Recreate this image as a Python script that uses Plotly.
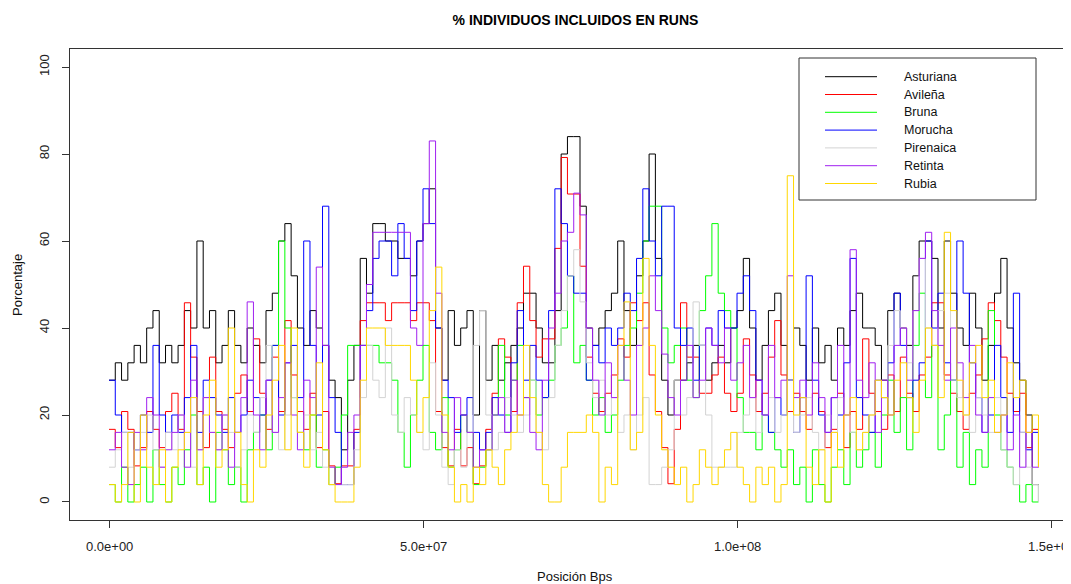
import plotly.graph_objects as go

# ---------------- data (1 Mb grid) ----------------
POSITIONS_MB = list(range(149))  # genomic position in Mb (0..148)

ASTURIANA = [28,32,28,32,36,32,40,44,32,36,
             32,36,44,40,60,40,44,32,36,44,
             36,32,40,36,32,44,48,60,64,52,
             40,36,44,40,36,28,24,12,28,36,
             56,48,64,64,60,60,56,56,52,60,
             64,72,40,28,44,36,40,44,20,44,
             28,36,28,32,36,40,48,48,40,32,
             32,44,80,84,84,68,40,36,40,44,
             48,60,44,36,52,60,80,56,28,20,
             28,28,32,36,36,28,32,36,32,40,
             44,56,40,28,36,44,48,36,28,40,
             36,28,40,32,36,28,40,36,44,48,
             40,40,36,28,44,48,40,36,52,60,
             60,56,40,60,48,40,36,48,40,28,
             36,48,56,40,32,28,20,4,0]
AVILENA = [16.7,12.5,20.8,16.7,8.3,12.5,20.8,16.7,12.5,20.8,
           25,16.7,45.8,33.3,20.8,12.5,33.3,20.8,16.7,12.5,
           25,29.2,20.8,37.5,25,16.7,33.3,20.8,41.7,29.2,
           20.8,16.7,25,12.5,20.8,8.3,4.2,8.3,8.3,16.7,
           41.7,45.8,45.8,45.8,41.7,45.8,45.8,45.8,41.7,45.8,
           45.8,41.7,20.8,12.5,8.3,16.7,8.3,12.5,4.2,8.3,
           16.7,25,37.5,33.3,20.8,45.8,54.2,41.7,33.3,37.5,
           37.5,58.3,79.2,70.8,70.8,54.2,33.3,25,20.8,25,
           29.2,37.5,33.3,45.8,41.7,45.8,29.2,20.8,12.5,4.2,
           16.7,45.8,33.3,33.3,25,25,29.2,33.3,25,20.8,
           25,37.5,29.2,20.8,25,33.3,41.7,29.2,20.8,25,
           20.8,16.7,25,20.8,12.5,16.7,25,12.5,20.8,16.7,
           37.5,25,20.8,16.7,29.2,20.8,33.3,25,20.8,29.2,
           33.3,45.8,45.8,29.2,25,20.8,16.7,25,29.2,37.5,
           45.8,41.7,33.3,25,20.8,25,12.5,16.7,8.3]
BRUNA = [4,0,8,0,4,8,0,12,4,0,
         8,4,12,20,4,8,0,16,12,4,
         8,0,12,16,20,12,36,60,40,24,
         16,12,20,8,12,4,8,20,36,36,
         36,36,36,32,32,28,16,8,20,28,
         36,16,12,24,8,12,20,16,4,8,
         12,20,36,20,28,36,24,28,20,24,
         28,36,40,52,32,36,28,20,24,16,
         20,28,36,40,48,60,68,68,40,32,
         36,40,28,24,44,52,64,48,44,40,
         24,16,16,12,20,16,12,8,12,4,
         8,0,12,4,0,8,12,4,16,8,
         12,16,8,20,28,16,24,12,36,48,
         24,36,12,20,28,8,16,4,12,8,
         44,20,12,8,4,0,4,0,4]
MORUCHA = [28,20,16,16,12,20,16,36,20,16,
           20,16,24,36,16,28,24,20,16,24,
           16,20,28,24,20,28,36,20,32,36,
           24,60,36,20,68,24,16,4,4,16,
           36,44,56,60,60,52,64,56,44,60,
           72,64,40,28,24,16,20,24,16,12,
           16,24,20,16,32,44,28,36,28,24,
           44,72,64,52,48,48,28,36,32,40,
           36,40,48,44,56,72,60,52,68,68,
           40,36,40,28,36,40,36,44,40,40,
           48,52,44,28,20,16,24,20,28,16,
           24,52,28,20,16,24,20,32,56,24,
           20,16,28,24,32,48,36,24,28,32,
           60,40,48,32,28,60,48,32,24,16,
           20,36,24,16,48,16,12,16,8]
PIRENAICA = [8,12,16,8,12,16,20,12,8,16,
             12,20,16,8,12,24,16,12,20,16,
             8,12,20,16,24,36,16,12,20,24,
             16,20,12,16,8,4,4,4,4,12,
             24,36,28,24,40,20,16,24,20,16,
             12,32,20,8,4,12,8,16,36,44,
             20,12,16,24,20,16,20,28,16,12,
             24,36,44,52,58,46,32,24,28,20,
             24,16,20,12,20,24,4,4,8,12,
             28,20,24,46,36,20,8,8,8,8,
             16,20,24,16,20,24,16,20,28,16,
             20,24,16,12,20,16,24,20,16,12,
             16,20,28,24,36,44,40,32,44,56,
             40,36,44,48,28,24,20,16,24,20,
             16,24,12,8,4,16,8,4,0]
RETINTA = [12,16,8,4,16,12,24,20,8,12,
           16,20,8,28,12,24,16,12,20,8,
           16,24,46,20,12,28,16,24,32,20,
           12,28,24,54,36,8,4,8,16,20,
           36,50,62,62,62,62,62,62,40,36,
           64,83,48,16,12,24,20,16,8,12,
           12,20,24,16,28,20,24,16,12,28,
           40,48,60,62,71,66,40,28,20,32,
           24,36,28,20,36,40,52,44,34,24,
           20,28,36,24,28,40,36,32,40,28,
           32,36,24,28,20,36,24,28,52,24,
           28,20,32,24,16,24,36,20,58,28,
           24,32,16,28,20,36,40,28,44,56,
           62,44,36,28,40,32,24,36,20,16,
           24,16,20,12,20,8,16,8,12]
RUBIA = [4,0,4,16,0,20,8,4,12,0,
         8,12,16,24,4,20,28,8,12,40,
         16,4,0,12,8,20,28,36,12,40,
         16,8,20,32,12,4,0,0,0,8,
         28,40,40,40,36,36,36,36,28,16,
         24,44,54,20,8,0,4,0,8,4,
         12,8,4,12,16,20,36,24,16,4,
         0,0,8,16,16,16,20,16,0,8,
         4,36,46,12,16,56,36,20,12,8,
         4,8,0,4,12,8,4,8,12,16,
         8,4,0,8,4,8,0,4,75,20,
         24,8,4,12,0,16,8,20,24,12,
         16,20,28,24,20,28,32,24,16,28,
         40,36,24,62,44,28,20,32,36,24,
         28,16,20,32,24,28,16,20,8]

BREEDS = ["Asturiana", "Avileña", "Bruna", "Morucha", "Pirenaica", "Retinta", "Rubia"]
SERIES = [ASTURIANA, AVILENA, BRUNA, MORUCHA, PIRENAICA, RETINTA, RUBIA]
COLORS = ["#000000", "#FF0000", "#00FF00", "#0000FF", "#D3D3D3", "#A020F0", "#FFD700"]

X_TICKS = [0, 5e7, 1e8, 1.5e8]
X_TICK_TEXT = ["0.0e+00", "5.0e+07", "1.0e+08", "1.5e+08"]
Y_TICKS = [0, 20, 40, 60, 80, 100]

# ---------------- layout geometry ----------------
# page has an 8px body margin; figure coordinates = page coordinates - 8
OFF = 8
W, H = 1071 - OFF, 584 - OFF
PLOT_L, PLOT_R, PLOT_T, PLOT_B = 70, 1071, 49, 520   # page pixels
ML, MR, MT, MB = PLOT_L - OFF, 0, PLOT_T - OFF, H - (PLOT_B - OFF)
FONT = "Liberation Sans, Arial, sans-serif"
AXC = "#333333"
TICKFONT = dict(family=FONT, size=13, color="#222222")

def px_x(p):
    return (p - PLOT_L) / (PLOT_R - PLOT_L)

def px_y(p):
    return (PLOT_B - p) / (PLOT_B - PLOT_T)

positions_bp = [m * 1_000_000 for m in POSITIONS_MB]

fig = go.Figure()
for name, vals, col in zip(BREEDS, SERIES, COLORS):
    fig.add_trace(go.Scatter(
        x=positions_bp, y=vals, name=name, mode="lines",
        line=dict(color=col, width=1, shape="hv"),
        showlegend=False, hoverinfo="skip"))

# manual legend box (R style)
shapes = [dict(type="rect", xref="paper", yref="paper",
               x0=px_x(799), x1=px_x(1036), y0=px_y(200), y1=px_y(58),
               line=dict(color=AXC, width=1), fillcolor="white", layer="above")]
annotations = []
row0, dy = 76.7, 17.8
for i, (name, col) in enumerate(zip(BREEDS, COLORS)):
    yy = px_y(row0 + i * dy)
    shapes.append(dict(type="line", xref="paper", yref="paper",
                       x0=px_x(825), x1=px_x(877), y0=yy, y1=yy,
                       line=dict(color=col, width=1), layer="above"))
    annotations.append(dict(text=name, xref="paper", yref="paper",
                            x=px_x(902), y=yy, xanchor="left", yanchor="middle",
                            showarrow=False, font=dict(family=FONT, size=12.5, color="#111111")))

# x tick labels drawn as annotations so the last one can run past the right edge
for tv, tt in zip(X_TICKS, X_TICK_TEXT):
    annotations.append(dict(text=tt, xref="x", yref="paper", x=tv, y=px_y(546),
                            xanchor="center", yanchor="middle", showarrow=False,
                            font=TICKFONT))

# axis titles
annotations.append(dict(text="Posición Bps", xref="paper", yref="paper",
                        x=px_x(575), y=px_y(576), xanchor="center", yanchor="middle",
                        showarrow=False, font=dict(family=FONT, size=13, color="#111111")))
annotations.append(dict(text="Porcentaje", xref="paper", yref="paper",
                        x=px_x(17), y=px_y(285), xanchor="center", yanchor="middle",
                        textangle=-90, showarrow=False,
                        font=dict(family=FONT, size=13, color="#111111")))

fig.update_layout(
    width=W, height=H,
    margin=dict(l=ML, r=MR, t=MT, b=MB, pad=0),
    paper_bgcolor="white", plot_bgcolor="white",
    title=dict(text="<b>% INDIVIDUOS INCLUIDOS EN RUNS</b>", x=(575.5 - OFF) / W, xref="container",
               xanchor="center", y=1 - (20 - OFF) / H, yref="container", yanchor="middle",
               font=dict(family=FONT, size=14, color="#000000")),
    shapes=shapes, annotations=annotations,
    xaxis=dict(range=[-6.21e6, 153.18e6], tickvals=X_TICKS, showticklabels=False,
               showgrid=False, zeroline=False, showline=True, linecolor=AXC, linewidth=1,
               mirror=True, ticks="outside", ticklen=7, tickcolor=AXC),
    yaxis=dict(range=[-4.14, 104.14], tickvals=Y_TICKS,
               showgrid=False, zeroline=False, showline=True, linecolor=AXC, linewidth=1,
               mirror=False, ticks="outside", ticklen=7, tickcolor=AXC, tickangle=-90,
               ticklabelstandoff=8, tickfont=TICKFONT),
)

fig.write_html("out.html")
